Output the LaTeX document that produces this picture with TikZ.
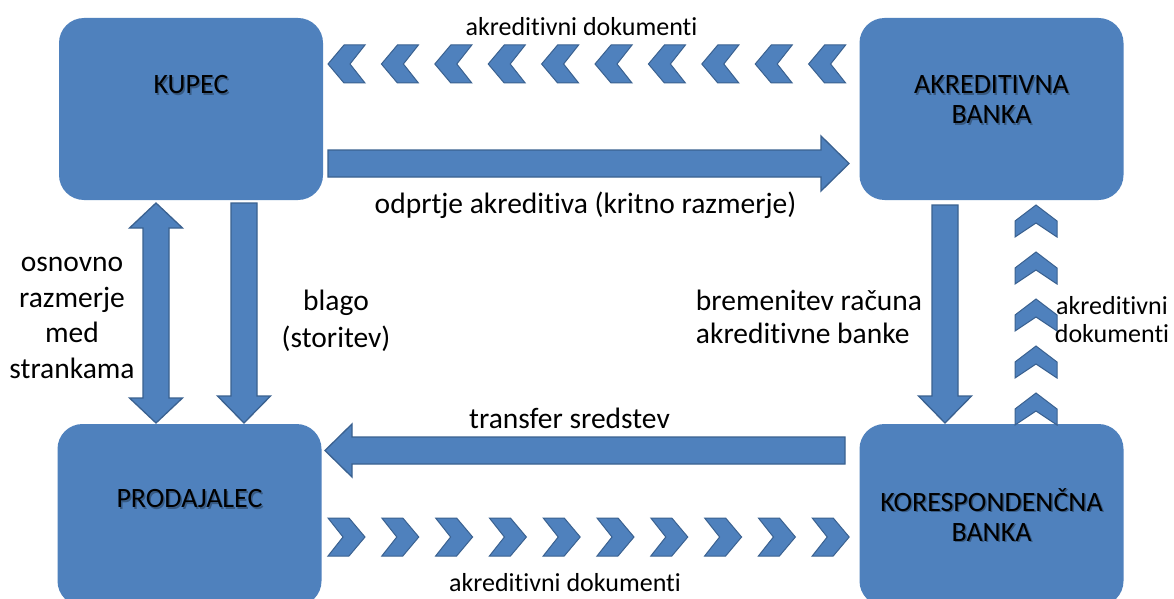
\documentclass[tikz,border=0pt]{standalone}
\usepackage{fontspec}
\setmainfont{Carlito}[Ligatures={NoCommon,NoRequired,NoContextual}]
\usetikzlibrary{calc}
\definecolor{boxblue}{HTML}{4F81BD}
\definecolor{edgeblue}{HTML}{3A6190}
\tikzset{
  box/.style={fill=boxblue, draw=none, rounded corners=25pt, minimum width=264pt, minimum height=182pt, inner sep=0pt},
  blk/.style={fill=boxblue, draw=edgeblue, line width=1.3pt, line join=miter},
  chev/.style={fill=boxblue, draw=edgeblue, line width=1pt, line join=miter},
  lbl/.style={font=\fontsize{29.5}{33}\selectfont, text=black, inner sep=0pt},
  doclbl/.style={font=\fontsize{26}{28}\selectfont, text=black, inner sep=0pt},
  boxlbl/.style={font=\fontsize{28}{30}\selectfont, text=black, align=center, inner sep=0pt},
  boxshd/.style={boxlbl, opacity=0.3},
}
% block arrows
\newcommand\blkR[3]{\draw[blk] ({#1},{#3-13.5}) -- ({#2-28},{#3-13.5}) -- ({#2-28},{#3-27.5}) -- ({#2},{#3}) -- ({#2-28},{#3+27.5}) -- ({#2-28},{#3+13.5}) -- ({#1},{#3+13.5}) -- cycle;}
\newcommand\blkL[3]{\draw[blk] ({#1},{#3}) -- ({#1+27},{#3-26.5}) -- ({#1+27},{#3-13.5}) -- ({#2},{#3-13.5}) -- ({#2},{#3+13.5}) -- ({#1+27},{#3+13.5}) -- ({#1+27},{#3+26.5}) -- cycle;}
\newcommand\blkD[3]{\draw[blk] ({#1-13},{#2}) -- ({#1+13},{#2}) -- ({#1+13},{#3-27}) -- ({#1+26.5},{#3-27}) -- ({#1},{#3}) -- ({#1-26.5},{#3-27}) -- ({#1-13},{#3-27}) -- cycle;}
\newcommand\blkUD[3]{\draw[blk] ({#1},{#2}) -- ({#1+26.5},{#2+25}) -- ({#1+13},{#2+25}) -- ({#1+13},{#3-25}) -- ({#1+26.5},{#3-25}) -- ({#1},{#3}) -- ({#1-26.5},{#3-25}) -- ({#1-13},{#3-25}) -- ({#1-13},{#2+25}) -- ({#1-26.5},{#2+25}) -- cycle;}
% chevrons
\newcommand\chevL[2]{\draw[chev] ({#1},{#2}) -- ({#1+16},{#2-19}) -- ({#1+37},{#2-19}) -- ({#1+22},{#2}) -- ({#1+37},{#2+19}) -- ({#1+16},{#2+19}) -- cycle;}
\newcommand\chevR[2]{\draw[chev] ({#1+37},{#2}) -- ({#1+21},{#2-19}) -- ({#1},{#2-19}) -- ({#1+15},{#2}) -- ({#1},{#2+19}) -- ({#1+21},{#2+19}) -- cycle;}
\newcommand\chevU[2]{\draw[chev] ({#1},{#2}) -- ({#1+21},{#2+16}) -- ({#1+21},{#2+32}) -- ({#1},{#2+18}) -- ({#1-21},{#2+32}) -- ({#1-21},{#2+16}) -- cycle;}
\begin{document}
\begin{tikzpicture}[x=1pt,y=-1pt]
\useasboundingbox (0,0) rectangle (1174,599);
\clip (0,0) rectangle (1174,599);
\fill[white] (0,0) rectangle (1174,599);

% boxes
\node[box] (kupec) at (191,109) {};
\node[box] (akb) at (991.5,109) {};
\node[box] (prod) at (189.5,515) {};
\node[box] (kor) at (991.5,515) {};

% box texts (with soft shadow)
\node[boxshd] (kupecS) at (192.5,86.5) {KUPEC};
\node[boxlbl] (kupecT) at (191,85) {KUPEC};
\node[boxshd] (akbS) at (993,101.5) {AKREDITIVNA\\BANKA};
\node[boxlbl] (akbT) at (991.5,100) {AKREDITIVNA\\BANKA};
\node[boxshd] (prodS) at (191,500.5) {PRODAJALEC};
\node[boxlbl] (prodT) at (189.5,499) {PRODAJALEC};
\node[boxshd] (korS) at (993,516.5) {KORESPONDENČNA\\BANKA};
\node[boxlbl] (korT) at (991.5,515) {KORESPONDENČNA\\BANKA};

% block arrows
\blkR{328}{849}{163.5}
\blkL{325}{845}{450.5}
\blkUD{156}{203}{423}
\blkD{244}{203}{423}
\blkD{945}{205}{423}

% chevron rows
\foreach \k in {0,...,9} {\chevL{328+53.4*\k}{64}}
\foreach \k in {0,...,9} {\chevR{328+53.8*\k}{537}}
\foreach \k in {0,...,4} {\chevU{1036}{205+47*\k}}

% labels
\node[doclbl] (docTop) at (581.5,27) {akreditivni dokumenti};
\node[lbl] (odpr) at (585.5,205) {odprtje akreditiva (kritno razmerje)};
\node[lbl] (trans) at (569.5,418) {transfer sredstev};
\node[doclbl] (docBot) at (565,583) {akreditivni dokumenti};
\node[lbl, align=left] (brem) at (809,317) {bremenitev računa\\akreditivne banke};
\node[doclbl, align=center] (docRt) at (1112,320) {akreditivni\\dokumenti};
\node[lbl, align=center, font=\fontsize{29.5}{35.5}\selectfont] (osn) at (72,318) {osnovno\\razmerje\\med\\strankama};
\node[lbl, align=center, font=\fontsize{29.5}{37}\selectfont] (blago) at (336,321) {blago\\(storitev)};
\end{tikzpicture}
\end{document}
